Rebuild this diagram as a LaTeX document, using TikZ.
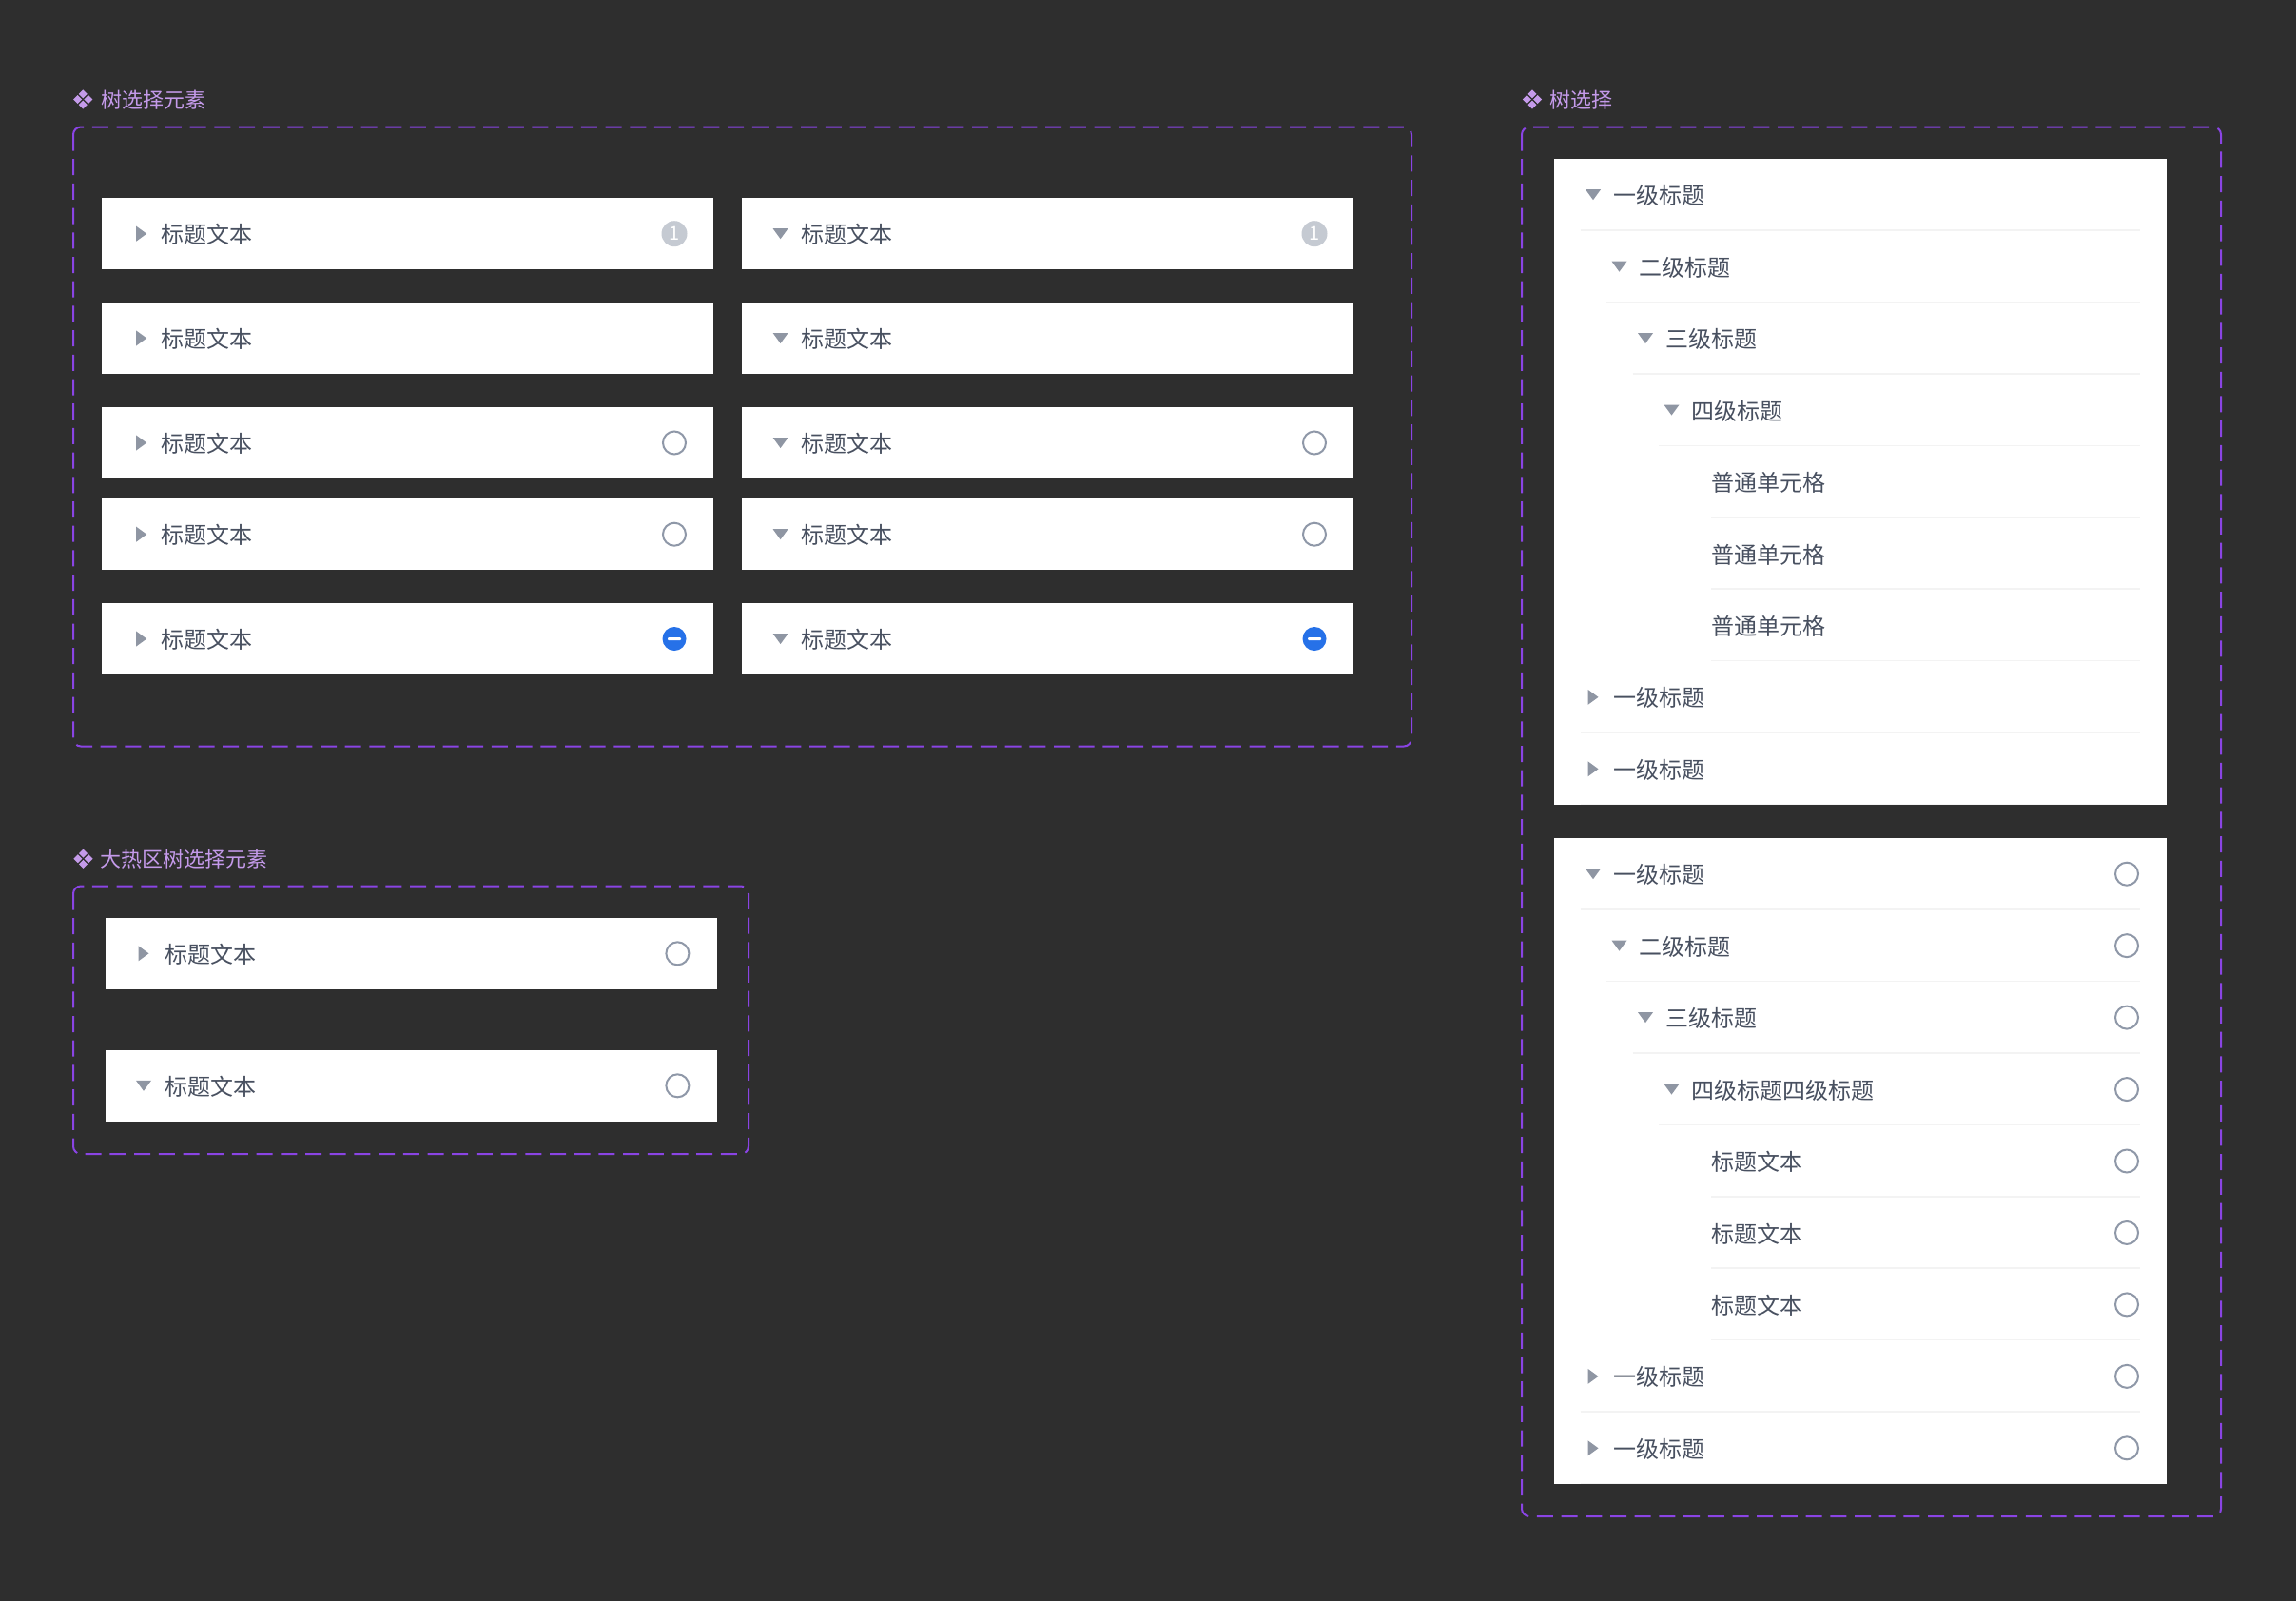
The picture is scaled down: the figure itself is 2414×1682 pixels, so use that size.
\documentclass[tikz,border=0pt]{standalone}
\usepackage{fontspec}
\setmainfont{Noto Sans CJK SC}
\definecolor{bgcol}{HTML}{2E2E2E}
\definecolor{framecol}{HTML}{8A44E4}
\definecolor{titlecol}{HTML}{C49AEA}
\definecolor{txtcol}{HTML}{485060}
\definecolor{tricol}{HTML}{8F96A3}
\definecolor{ringcol}{HTML}{8F98A8}
\definecolor{badgecol}{HTML}{C5CAD2}
\definecolor{bluecol}{HTML}{2671E8}
\definecolor{sepcol}{HTML}{F3F3F3}
\tikzset{
  framebox/.style={draw=framecol,line width=2pt,rounded corners=8pt,dash pattern=on 17pt off 8.7pt},
  whitebox/.style={fill=white,draw=none},
  cardbox/.style={fill=white,draw=none,minimum width=643pt,minimum height=75pt,inner sep=0pt},
  titletxt/.style={text=titlecol,anchor=west,inner sep=0pt,font=\fontsize{22}{26}\selectfont},
  celltxt/.style={text=txtcol,anchor=west,inner sep=0pt,font=\fontsize{24}{28}\selectfont},
  ringnode/.style={circle,draw=ringcol,line width=2pt,fill=white,minimum size=24pt,inner sep=0pt},
  badgenode/.style={circle,fill=badgecol,text=white,minimum size=27pt,inner sep=0pt,font=\fontsize{20}{24}\selectfont},
  minusnode/.style={circle,fill=bluecol,minimum size=25pt,inner sep=0pt},
  sepline/.style={draw=sepcol,line width=1.5pt},
  triright/.pic={\fill[tricol] (-5.5,-8)--(5.5,0)--(-5.5,8)--cycle;},
  tridown/.pic={\fill[tricol] (-8,-5.5)--(8,-5.5)--(0,5.5)--cycle;},
  gem/.pic={\foreach \a/\b in {-5.6/0,5.6/0,0/-5.6,0/5.6}
    \fill[titlecol] (\a-4.5,\b)--(\a,\b-4.5)--(\a+4.5,\b)--(\a,\b+4.5)--cycle;},
}
\begin{document}
\begin{tikzpicture}[x=1pt,y=-1pt]
\useasboundingbox (0,0) rectangle (2414,1682);
\fill[bgcol] (-5,-5) rectangle (2419,1687);

% titles
\pic at (87.3,104.5) {gem};
\node[titletxt] (title1) at (106,105.5) {树选择元素};
\pic at (87.5,902.7) {gem};
\node[titletxt] (title2) at (105,903.5) {大热区树选择元素};
\pic at (1611,104.5) {gem};
\node[titletxt] (title3) at (1629,105.5) {树选择};

% frames
\draw[framebox] (77,133.5) rectangle (1484,784.5);
\draw[framebox] (77,931.5) rectangle (787,1213);
\draw[framebox] (1600,133.5) rectangle (2335,1594);

% element cards, two columns
\foreach \y/\n/\k in {245.7/1/badge,355.5/2/none,465.5/3/ring,561.7/4/ring,671.5/5/minus}{
\node[cardbox] (la\n) at (428.5,\y) {};
\node[cardbox] (lb\n) at (1101,\y) {};
\pic at (148.7,\y) {triright};
\pic at (820.6,\y) {tridown};
\node[celltxt] at (169.3,\y+1) {标题文本};
\node[celltxt] at (842.3,\y+1) {标题文本};
\ifnum\pdfstrcmp{\k}{badge}=0
\node[badgenode] at (709,\y) {1};
\node[badgenode] at (1382,\y) {1};
\fi
\ifnum\pdfstrcmp{\k}{ring}=0
\node[ringnode] at (709,\y) {};
\node[ringnode] at (1382,\y) {};
\fi
\ifnum\pdfstrcmp{\k}{minus}=0
\node[minusnode] (ma\n) at (709,\y) {};
\node[minusnode] (mb\n) at (1382,\y) {};
\fill[white,rounded corners=1pt] (702,\y-1.5) rectangle (716,\y+1.5);
\fill[white,rounded corners=1pt] (1375,\y-1.5) rectangle (1389,\y+1.5);
\fi
}

% large hot area cards
\foreach \y/\n in {1002.3/1,1141.3/2}{
\node[cardbox] (hot\n) at (432,\y) {};
\node[celltxt] at (173,\y+1) {标题文本};
\node[ringnode] at (712.4,\y) {};
}
\pic at (151,1002.3) {triright};
\pic at (151,1141.3) {tridown};

% tree panels
\foreach \p/\top/\four/\leaf/\ring in {1/167/四级标题/普通单元格/0,2/881/四级标题四级标题/标题文本/1}{
\fill[whitebox] (1634,\top) rectangle (2277.5,\top+679);
\foreach \r/\lvl/\k/\txt in {0/0/d/一级标题,1/1/d/二级标题,2/2/d/三级标题,3/3/d/\four,
  4/x/n/\leaf,5/x/n/\leaf,6/x/n/\leaf,7/0/r/一级标题,8/0/r/一级标题}{
\if x\lvl
\def\sx{1799}\def\tx{1799.3}\def\tri{0}
\else
\pgfmathsetmacro{\sx}{1661.5+27.5*\lvl}
\pgfmathsetmacro{\tx}{1696+27.5*\lvl}
\pgfmathsetmacro{\tri}{1675+27.5*\lvl}
\fi
\pgfmathsetmacro{\cy}{\top+37.7+75.45*\r}
\pgfmathsetmacro{\ly}{\top+75.45*(\r+1)-0.5}
\node[celltxt] (p\p r\r) at (\tx,\cy+1) {\txt};
\if d\k \pic at (\tri,\cy) {tridown}; \fi
\if r\k \pic at (1675,\cy) {triright}; \fi
\draw[sepline] (\sx,\ly)--(2250,\ly);
\if 1\ring \node[ringnode] (q\p r\r) at (2236,\cy) {}; \fi
}
}
\end{tikzpicture}
\end{document}
